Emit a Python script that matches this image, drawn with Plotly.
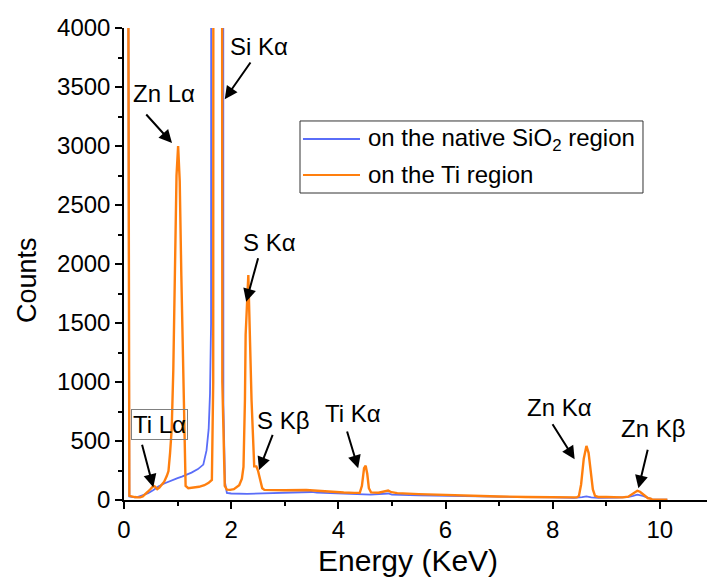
import plotly.graph_objects as go

# ---------------- data ----------------
energy_ti = [0.01, 0.06, 0.10, 0.15, 0.20, 0.25, 0.30, 0.35, 0.40, 0.45, 0.50, 0.55, 0.58, 0.62,
             0.66, 0.70, 0.75, 0.80, 0.83, 0.86, 0.89, 0.92, 0.95, 0.98, 1.01, 1.04, 1.07, 1.10,
             1.12, 1.15, 1.20, 1.30, 1.40, 1.50, 1.58, 1.64, 1.665, 1.685, 1.80, 1.835, 1.86,
             1.88, 1.92, 1.98, 2.05, 2.10, 2.15, 2.20, 2.23, 2.257, 2.27, 2.32, 2.35, 2.38, 2.43,
             2.47, 2.50, 2.54, 2.58, 2.62, 2.70, 3.00, 3.40, 3.80, 4.10, 4.30, 4.40, 4.44, 4.48,
             4.51, 4.54, 4.57, 4.61, 4.75, 4.88, 4.93, 4.99, 5.10, 5.50, 6.00, 6.50, 7.00, 7.50,
             8.00, 8.45, 8.49, 8.53, 8.58, 8.63, 8.67, 8.71, 8.75, 8.79, 8.85, 9.00, 9.30, 9.41,
             9.48, 9.54, 9.58, 9.63, 9.70, 9.78, 9.83, 9.86, 10.14]
counts_ti = [9000, 9000, 35, 28, 25, 22, 22, 30, 55, 72, 95, 120, 112, 92,
             105, 125, 155, 205, 245, 400, 600, 1100, 2000, 2750, 3000, 2700, 1900, 1100,
             750, 120, 100, 105, 112, 125, 145, 170, 1000, 30000, 30000, 1000, 300,
             120, 88, 86, 92, 105, 125, 180, 280, 850, 1400, 1907, 1400, 850, 285,
             285, 250, 160, 100, 86, 84, 82, 85, 70, 64, 60, 60, 120, 270,
             290, 220, 100, 65, 62, 72, 80, 66, 58, 50, 42, 36, 30, 26,
             24, 22, 35, 130, 350, 458, 400, 230, 90, 35, 26, 25, 22, 28,
             50, 72, 78, 70, 45, 15, 12, 2, 2]

energy_sio2 = [0.01, 0.06, 0.10, 0.15, 0.20, 0.25, 0.30, 0.36, 0.45, 0.55, 0.64, 0.75, 0.89, 1.00,
               1.08, 1.18, 1.26, 1.38, 1.48, 1.54, 1.58, 1.605, 1.625, 1.65, 1.83, 1.855, 1.885,
               1.92, 2.00, 2.30, 2.60, 3.00, 3.40, 3.50, 3.60, 4.00, 4.40, 4.50, 4.60, 4.93, 5.00,
               5.50, 6.00, 6.50, 7.00, 7.50, 8.00, 8.40, 8.55, 8.63, 8.72, 8.85, 9.20, 9.40,
               9.50, 9.58, 9.66, 9.75, 9.83, 9.86, 10.14]
counts_sio2 = [9000, 9000, 30, 25, 22, 25, 32, 40, 57, 85, 115, 140, 168, 185,
               198, 215, 232, 262, 300, 420, 600, 900, 1500, 40000, 40000, 800, 150,
               60, 55, 52, 55, 60, 64, 68, 62, 55, 45, 48, 45, 55, 45,
               40, 35, 30, 27, 24, 22, 18, 24, 30, 22, 18, 20, 25,
               35, 45, 38, 25, 10, 2, 2]

series_names = ["on the native SiO<sub>2</sub> region", "on the Ti region"]
series_colors = ["#5a6df8", "#ff7f0e"]

x_ticks = [0, 2, 4, 6, 8, 10]
y_ticks = [0, 500, 1000, 1500, 2000, 2500, 3000, 3500, 4000]

peak_labels = ["Zn Lα", "Si Kα", "S Kα", "Ti Lα", "S Kβ", "Ti Kα", "Zn Kα", "Zn Kβ"]

FONT = "Liberation Sans, Arial, sans-serif"

fig = go.Figure()
fig.add_trace(go.Scatter(x=energy_sio2, y=counts_sio2, mode="lines", name=series_names[0],
                         line=dict(color=series_colors[0], width=1.8), showlegend=False))
fig.add_trace(go.Scatter(x=energy_ti, y=counts_ti, mode="lines", name=series_names[1],
                         line=dict(color=series_colors[1], width=2.4), showlegend=False))

# annotation geometry (data coordinates)
text_pos = [(0.746, 3441), (2.52, 3847), (2.72, 2186), (0.67, 644), (2.97, 678),
            (4.27, 737), (8.13, 780), (9.89, 602)]
arrow_tail = [(0.39, 3280), (2.38, 3720), (2.51, 2062), (0.33, 480), (2.785, 565),
              (4.155, 593), (7.98, 655), (9.78, 438)]
arrow_head = [(0.896, 3025), (1.88, 3396), (2.28, 1680), (0.547, 108), (2.52, 254),
              (4.37, 269), (8.41, 345), (9.60, 99)]

annotations = []
for i, lab in enumerate(peak_labels):
    tx, ty = text_pos[i]
    a = dict(x=tx, y=ty, xref="x", yref="y", text=lab, showarrow=False,
             font=dict(family=FONT, size=24, color="black"))
    if lab == "Ti Lα":
        a.update(bordercolor="#808080", borderwidth=1, borderpad=1)
    annotations.append(a)
    hx, hy = arrow_head[i]
    ax_, ay_ = arrow_tail[i]
    annotations.append(dict(x=hx, y=hy, xref="x", yref="y", ax=ax_, ay=ay_, axref="x", ayref="y",
                            text="", showarrow=True, arrowhead=2, arrowsize=1.3, arrowwidth=2,
                            arrowcolor="black", standoff=0, startstandoff=0))

# axis titles
annotations.append(dict(x=0.487, y=0, xref="paper", yref="paper", yshift=-60, text="Energy (KeV)",
                        showarrow=False, font=dict(family=FONT, size=30, color="black"), yanchor="middle"))
annotations.append(dict(x=0, y=0.466, xref="paper", yref="paper", xshift=-97, text="Counts",
                        textangle=-90, showarrow=False, font=dict(family=FONT, size=27, color="black"),
                        xanchor="center"))

# custom legend
leg_y = [0.7648, 0.6886]
shapes = [dict(type="rect", xref="paper", yref="paper", x0=0.3019, x1=0.8902, y0=0.6504, y1=0.8030,
               line=dict(color="#333333", width=1), fillcolor="white", layer="above")]
for i in range(2):
    shapes.append(dict(type="line", xref="paper", yref="paper", x0=0.307, x1=0.4048,
                       y0=leg_y[i], y1=leg_y[i], line=dict(color=series_colors[i], width=2)))
    annotations.append(dict(x=0.4151, y=leg_y[i], xref="paper", yref="paper", text=series_names[i],
                            xanchor="left", yanchor="middle", showarrow=False,
                            font=dict(family=FONT, size=24, color="black")))

fig.update_layout(
    width=707, height=581,
    margin=dict(l=124, r=0, t=28, b=81),
    paper_bgcolor="white", plot_bgcolor="white",
    font=dict(family=FONT, color="black"),
    annotations=annotations, shapes=shapes,
    showlegend=False,
)
fig.update_xaxes(range=[0, 10.88], tickvals=x_ticks, ticktext=[str(v) for v in x_ticks],
                 showline=True, linecolor="black", linewidth=1.5, showgrid=False, zeroline=False,
                 ticks="outside", ticklen=7, tickwidth=1.5, tickcolor="black",
                 tickfont=dict(family=FONT, size=24, color="black"),
                 minor=dict(tickvals=[1, 3, 5, 7, 9], ticks="outside", ticklen=4, tickwidth=1.5, tickcolor="black"))
fig.update_yaxes(range=[0, 4000], tickvals=y_ticks, ticktext=[str(v) for v in y_ticks],
                 showline=True, linecolor="black", linewidth=1.5, showgrid=False, zeroline=False,
                 ticks="outside", ticklen=7, tickwidth=1.5, tickcolor="black",
                 tickfont=dict(family=FONT, size=24, color="black"),
                 minor=dict(tickvals=[250, 750, 1250, 1750, 2250, 2750, 3250, 3750],
                            ticks="outside", ticklen=4, tickwidth=1.5, tickcolor="black"))

fig.write_html("out.html", config={"displayModeBar": False},
               post_script="document.body.style.margin='0px';")
